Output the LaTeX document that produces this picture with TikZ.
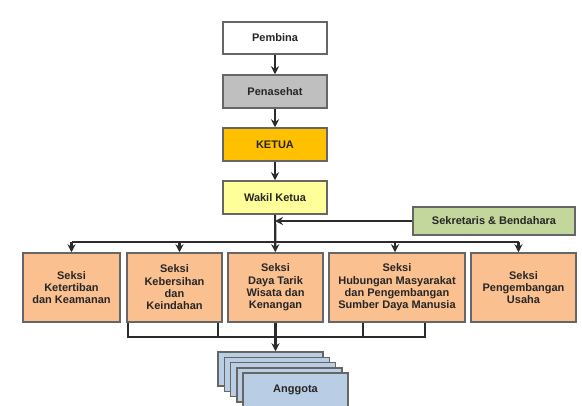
\documentclass[tikz,border=0pt]{standalone}
\usepackage{fontspec}
\setmainfont{Liberation Sans}
\usepackage{tikz}
\usetikzlibrary{calc,arrows.meta}
\definecolor{gris}{HTML}{BFBFBF}
\definecolor{oranye}{HTML}{FFC000}
\definecolor{kuning}{HTML}{FFFF99}
\definecolor{hijau}{HTML}{C3D69B}
\definecolor{peach}{HTML}{FAC090}
\definecolor{biru}{HTML}{B9CDE5}
\definecolor{garis}{HTML}{2B2B2B}
\tikzset{
  kotak/.style={draw=gray!80!black, line width=1.5pt, align=center, inner sep=1pt,
    font=\fontsize{11}{12.3}\selectfont\bfseries, text=black!85},
  garisan/.style={draw=garis, line width=2.2pt},
  panah/.style={garisan, -{Stealth[length=8pt,width=8pt]}}
}
\begin{document}
\begin{tikzpicture}[x=1pt,y=-1pt]
  \useasboundingbox[fill=white] (0,0) rectangle (582,405);
  \node[kotak, fill=white, minimum width=104pt, minimum height=32pt] (pembina) at (275,38) {Pembina};
  \node[kotak, fill=gris, minimum width=104pt, minimum height=33pt] (penasehat) at (275,91.5) {Penasehat};
  \node[kotak, fill=oranye, minimum width=104pt, minimum height=33pt] (ketua) at (275,144.5) {KETUA};
  \node[kotak, fill=kuning, minimum width=104pt, minimum height=33pt] (wakil) at (275,197.5) {Wakil Ketua};
  \node[kotak, fill=hijau, minimum width=162pt, minimum height=28pt] (sekben) at (494,221) {Sekretaris \& Bendahara};
  \node[kotak, fill=peach, minimum width=97pt, minimum height=69pt] (s1) at (71.5,287.5) {Seksi\\Ketertiban\\dan Keamanan};
  \node[kotak, fill=peach, minimum width=95pt, minimum height=69pt] (s2) at (174.5,287.5) {Seksi\\Kebersihan\\dan\\Keindahan};
  \node[kotak, fill=peach, minimum width=95pt, minimum height=69pt] (s3) at (275.5,287.5) {Seksi\\Daya Tarik\\Wisata dan\\Kenangan};
  \node[kotak, fill=peach, minimum width=136pt, minimum height=69pt] (s4) at (397,287.5) {Seksi\\Hubungan Masyarakat\\dan Pengembangan\\Sumber Daya Manusia};
  \node[kotak, fill=peach, minimum width=105pt, minimum height=69pt] (s5) at (523.5,287.5) {Seksi\\Pengembangan\\Usaha};
  \foreach \i in {0,...,3}
    \node[kotak, fill=biru, minimum width=105pt, minimum height=34pt] (agt\i) at (270.5+6.25*\i,369+5.25*\i) {};
  \node[kotak, fill=biru, minimum width=105pt, minimum height=34pt] (agt) at (295.5,390) {Anggota};
  \draw[panah] (pembina) -- (penasehat);
  \draw[panah] (penasehat) -- (ketua);
  \draw[panah] (ketua) -- (wakil);
  \draw[panah] (wakil) -- (s3);
  \draw[panah] (sekben.west) -- (wakil.south |- sekben.west);
  \coordinate (bus) at (0,242);
  \draw[garisan] (s1.north |- bus) -- ([xshift=-5]s5.north |- bus);
  \draw[panah] (s1.north |- bus) -- (s1.north);
  \draw[panah] ([xshift=5]s2.north |- bus) -- ([xshift=5]s2.north);
  \draw[panah] ([xshift=-2]s4.north |- bus) -- ([xshift=-2]s4.north);
  \draw[panah] ([xshift=-5]s5.north |- bus) -- ([xshift=-5]s5.north);
  \coordinate (bawah) at (0,337);
  \draw[garisan] ([xshift=2]s2.south west) -- ([xshift=2]s2.south west |- bawah) -- ([xshift=28]s4.south |- bawah) -- ([xshift=28]s4.south);
  \draw[garisan] ([xshift=-5]s2.south east) -- ([xshift=-5]s2.south east |- bawah);
  \draw[garisan] ([xshift=-34]s4.south) -- ([xshift=-34]s4.south |- bawah);
  \draw[panah] (s3.south) -- (s3.south |- agt0.north);
\end{tikzpicture}
\end{document}
